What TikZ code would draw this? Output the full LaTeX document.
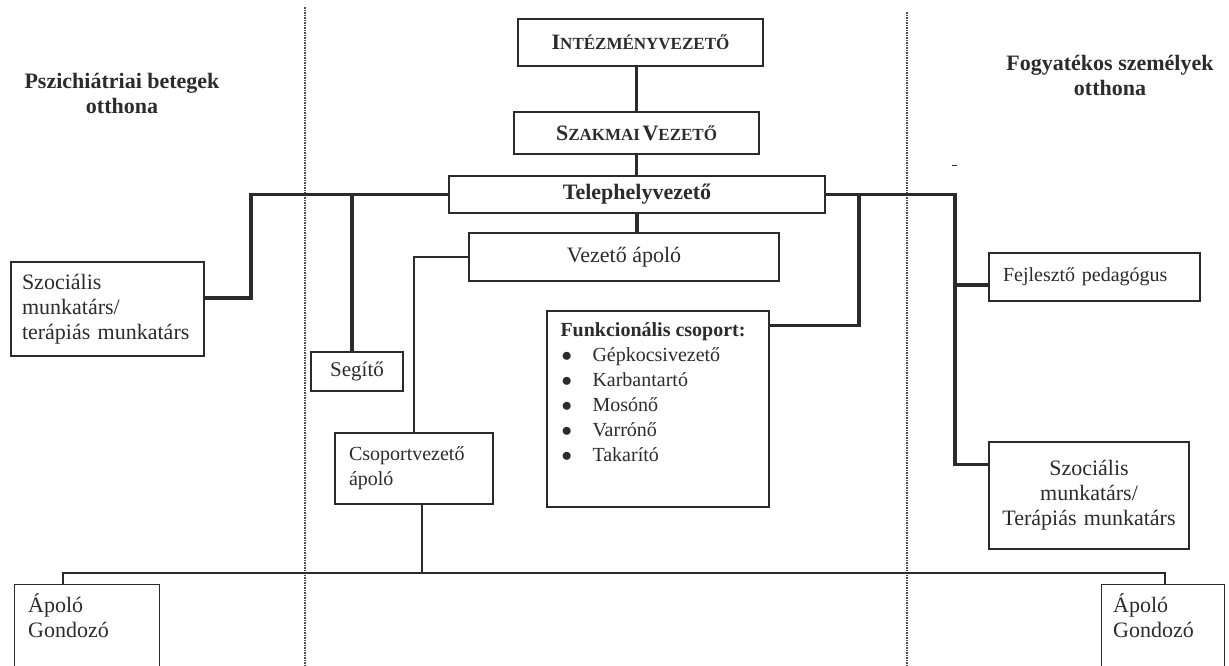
\documentclass[tikz,border=0pt]{standalone}
\usepackage{fontspec}
\setmainfont{Liberation Serif}
\usepackage{tikz}
\usetikzlibrary{positioning}
\definecolor{ink}{HTML}{2B2B2B}
\newcommand\fakesc[2]{{\fontsize{22}{24}\selectfont #1}{\fontsize{17}{20}\selectfont #2}}
\newcommand\fsz[1]{\fontsize{#1}{25}\selectfont}
\newcommand\bitem[1]{\hspace*{1pt}\makebox[31pt][l]{$\bullet$}#1}

\tikzset{
	box/.style={draw=ink, line width=1.4pt, inner xsep=14pt, inner ysep=4pt, text=ink, font=\fsz{20}},
	bus/.style={draw=ink, line width=3.5pt},
	link/.style={draw=ink, line width=1.3pt},
	divider/.style={draw=ink!85, line width=1.2pt, dash pattern=on 1.5pt off 1pt},
	heading/.style={text=ink, font=\fsz{22}\bfseries, align=center},
	plain/.style={text=ink, font=\fsz{20}, inner sep=0pt, anchor=north west, align=left}
}

\begin{document}
\begin{tikzpicture}[x=1pt, y=-1pt]
		%%%%% START %%%%%
		\useasboundingbox (0,0) rectangle (1229,665);
		\clip (0,0) rectangle (1229,665);
		
		\draw[divider] (305,7) -- (305,665);
		\draw[divider] (907,12) -- (907,665);
		
		\node[heading] (hdL) at (122,93) {Pszichiátriai betegek\\otthona};
		\node[heading] (hdR) at (1110,75) {Fogyatékos személyek\\otthona};
		\draw[ink, line width=1pt] (952,165) -- (957,165);
		
		\node[box, minimum width=245pt, minimum height=47pt, font=\bfseries] (intez) at (640.5,42.5) {\fakesc{I}{NTÉZMÉNYVEZETŐ}};
		\node[box, minimum width=245pt, minimum height=42pt, font=\bfseries] (szakm) at (636.5,133) {\fakesc{S}{ZAKMAI} \fakesc{V}{EZETŐ}};
		\node[box, minimum width=376pt, minimum height=37pt, font=\fsz{22}\bfseries] (teleph) at (637,194.5) {Telephelyvezető};
		\node[box, font=\fsz{22}, minimum width=310pt, minimum height=48pt] (vezap) at (624,257) {Vezető ápoló};
		
		\node[box, font=\fsz{22}, inner xsep=11pt, text width=171pt, align=left, minimum height=94pt] (szocL) at (107.5,309) {Szociális\\munkatárs/\\terápiás munkatárs};
		\node[box, font=\fsz{21}, inner xsep=0pt, minimum width=92pt, minimum height=39pt] (segito) at (357,371.5) {Segítő};
		\node[box, line width=2.6pt, text width=130pt, align=left, minimum height=71pt] (csop) at (414,468.5) {Csoportvezető\\ápoló};
		
		\node[box, minimum width=222pt, minimum height=196pt] (funk) at (658,409) {};
		\node[plain] (funktxt) at ([xshift=14pt,yshift=-12pt]funk.north west) {\textbf{Funkcionális csoport:}\\
			\bitem{Gépkocsivezető}\\
			\bitem{Karbantartó}\\
			\bitem{Mosónő}\\
			\bitem{Varrónő}\\
			\bitem{Takarító}};
		
		\node[box, text width=183pt, align=left, minimum height=48pt] (fejl) at (1094.5,277) {Fejlesztő pedagógus};
		\node[box, font=\fsz{22}, inner xsep=8pt, text width=184pt, align=center, minimum height=107pt] (szocR) at (1089,495.5) {Szociális\\munkatárs/\\Terápiás munkatárs};
		
		\node[box, anchor=north west, minimum width=145pt, minimum height=110pt] (apL) at (14,584) {};
		\node[plain, font=\fsz{22}] (apLtxt) at ([xshift=14pt,yshift=-9pt]apL.north west) {Ápoló\\Gondozó};
		\node[box, anchor=north west, minimum width=123pt, minimum height=110pt] (apR) at (1101,584) {};
		\node[plain, font=\fsz{22}] (apRtxt) at ([xshift=12pt,yshift=-9pt]apR.north west) {Ápoló\\Gondozó};
		
		\coordinate (busL) at (251,194.5);
		\coordinate (busS) at (352,194.5);
		\coordinate (busF) at (859,194.5);
		\coordinate (busR) at (955,194.5);
		\coordinate (botL) at (63,573);
		\coordinate (botR) at (1165,573);
		
		\draw[bus] (szakm.north) -- (szakm.north |- intez.south);
		\draw[bus] (szakm.south) -- (szakm.south |- teleph.north);
		\draw[bus] (teleph.south) -- (teleph.south |- vezap.north);
		
		\draw[bus] ([yshift=11pt]szocL.east) -| (busL) -- (teleph.west);
		\draw[bus] (busS) -- ([xshift=-5pt]segito.north);
		\draw[bus] (teleph.east) -- (busR) |- ([yshift=-23pt]szocR.north west);
		\draw[bus] (busF) |- ([yshift=-15pt]funk.north east);
		\draw[bus] ([yshift=-8pt]fejl.west) -- ([yshift=-8pt]fejl.west -| busR);
		
		\draw[link] (vezap.west) -| (csop.north);
		\draw[link] ([xshift=8pt]csop.south) -- ([xshift=8pt]csop.south |- botL);
		\draw[link] (apL.north -| botL) |- (botR) -- (apR.north -| botR);
		
		%%%%% END %%%%%
\end{tikzpicture}
\end{document}
